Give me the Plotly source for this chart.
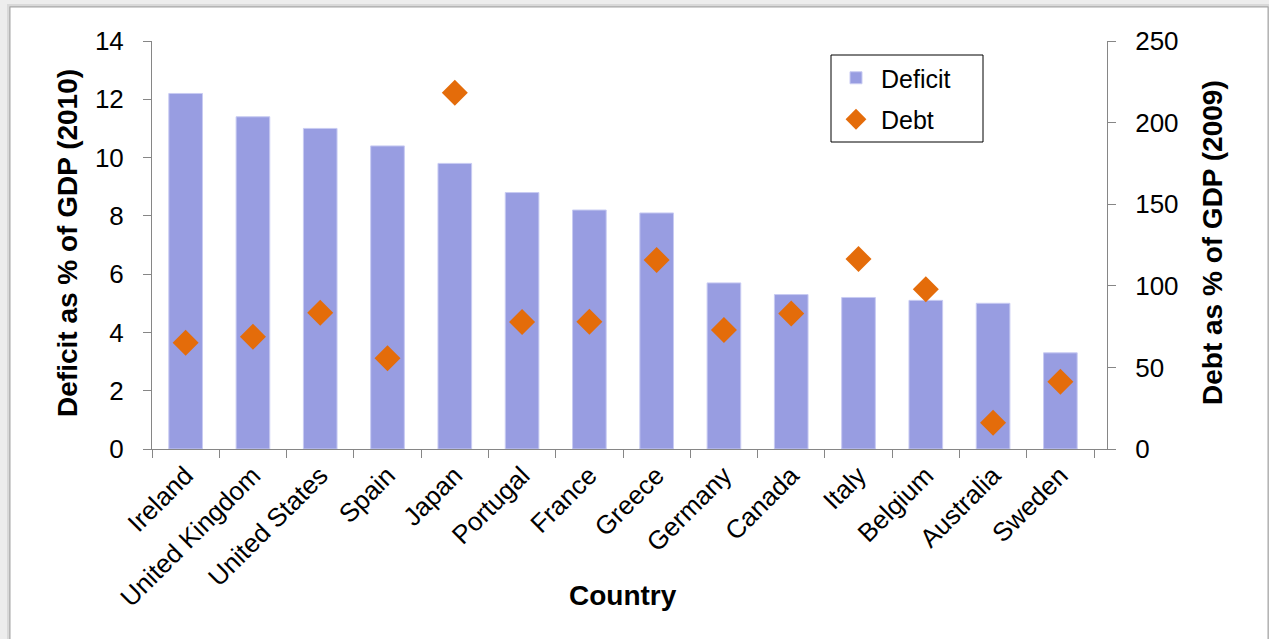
import plotly.graph_objects as go

countries = ["Ireland", "United Kingdom", "United States", "Spain", "Japan", "Portugal",
             "France", "Greece", "Germany", "Canada", "Italy", "Belgium", "Australia", "Sweden"]
deficit = [12.2, 11.4, 11.0, 10.4, 9.8, 8.8, 8.2, 8.1, 5.7, 5.3, 5.2, 5.1, 5.0, 3.3]
debt = [65.1, 68.8, 83.5, 55.6, 218.3, 77.8, 78.0, 115.8, 72.9, 83.1, 116.4, 97.9, 16.1, 41.2]

FONT = "Liberation Sans, Arial, sans-serif"
AX = "#868686"

W, H = 1269, 639
L, R, T, B = 152, 162, 41, 190
pw, ph = W - L - R, H - T - B


def px(x):
    return (x - L) / pw


def py(y):
    return (H - B - y) / ph


fig = go.Figure()
fig.add_trace(go.Bar(
    x=countries, y=deficit, name="Deficit", width=0.5,
    marker=dict(color="#989DE1", line=dict(color="#C8CBF2", width=1)),
    legendgroup="a", yaxis="y",
))
fig.add_trace(go.Scatter(
    x=countries, y=debt, name="Debt", mode="markers",
    marker=dict(symbol="diamond", size=20, color="#E46C0A"),
    legendgroup="b", yaxis="y2",
))

fig.update_layout(
    width=W, height=H,
    margin=dict(l=L, r=R, t=T, b=B, pad=0),
    paper_bgcolor="#EDEDED",
    plot_bgcolor="rgba(0,0,0,0)",
    font=dict(family=FONT, size=26, color="black"),
    bargap=0.5,
    showlegend=True,
    legend=dict(
        x=px(831), y=py(55), xanchor="left", yanchor="top",
        borderwidth=0, bgcolor="rgba(0,0,0,0)",
        font=dict(size=25, family=FONT), traceorder="grouped",
        tracegroupgap=6, itemwidth=40,
    ),
    xaxis=dict(
        type="category", range=[-0.5, 13.693],
        showline=True, linecolor=AX, linewidth=1,
        ticks="outside", ticklen=8, tickcolor=AX, tickson="boundaries",
        tickangle=-45, tickfont=dict(size=26), showgrid=False, zeroline=False,
    ),
    yaxis=dict(
        range=[0, 14], dtick=2, showline=True, linecolor=AX, linewidth=1,
        ticks="outside", ticklen=8, tickcolor=AX, showgrid=False, zeroline=False,
        tickfont=dict(size=26), ticklabelstandoff=14,
    ),
    yaxis2=dict(
        range=[0, 250], dtick=50, overlaying="y", side="right",
        showline=True, linecolor=AX, linewidth=1,
        ticks="outside", ticklen=8, tickcolor=AX, showgrid=False, zeroline=False,
        tickfont=dict(size=26), ticklabelstandoff=14,
    ),
    shapes=[
        dict(type="rect", xref="paper", yref="paper", layer="below",
             x0=px(7), x1=px(1300), y0=py(700), y1=py(4),
             fillcolor="#D9D9D9", line=dict(width=0)),
        dict(type="rect", xref="paper", yref="paper", layer="below",
             x0=px(9), x1=px(1300), y0=py(700), y1=py(6),
             fillcolor="#C4C4C4", line=dict(width=0)),
        dict(type="rect", xref="paper", yref="paper", layer="below",
             x0=px(10), x1=px(1268), y0=py(700), y1=py(7),
             fillcolor="white", line=dict(color="#A6A6A6", width=1)),
        # legend frame
        dict(type="rect", xref="paper", yref="paper", layer="above",
             x0=px(831), x1=px(983), y0=py(142), y1=py(55),
             fillcolor="white", line=dict(color="black", width=1)),
    ],
    annotations=[
        dict(text="<b>Deficit as % of GDP (2010)</b>", xref="paper", yref="paper",
             x=px(68), y=0.505, textangle=-90, showarrow=False,
             xanchor="center", yanchor="middle", font=dict(size=28)),
        dict(text="<b>Debt as % of GDP (2009)</b>", xref="paper", yref="paper",
             x=px(1213), y=0.505, textangle=-90, showarrow=False,
             xanchor="center", yanchor="middle", font=dict(size=28)),
        dict(text="<b>Country</b>", xref="paper", yref="paper",
             x=px(623), y=py(595), showarrow=False,
             xanchor="center", yanchor="middle", font=dict(size=28)),
    ],
)

fig.write_html("out.html")
